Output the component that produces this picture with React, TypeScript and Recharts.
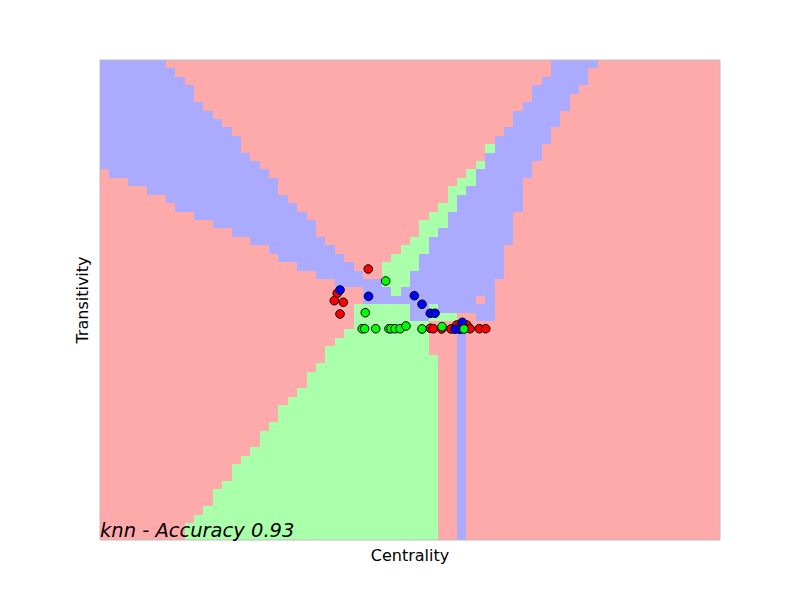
import React from "react";
import { ReferenceArea, Scatter, ScatterChart, XAxis, YAxis } from "recharts";

// mesh: 66 columns x 57 rows, step 0.01 in both directions
const STEP = 0.01;
const N_COLS = 66;
const N_ROWS = 57;
const X_MAX = N_COLS * STEP;
const Y_MAX = N_ROWS * STEP;

// predicted class per mesh row (top row first); "b7" = class b from column 7
const meshRows = [
  "b0 r7 b48 r53",
  "b0 r8 b48 r52",
  "b0 r9 b47 r52",
  "b0 r10 b46 r51",
  "b0 r10 b46 r50",
  "b0 r11 b45 r50",
  "b0 r12 b44 r49",
  "b0 r13 b44 r49",
  "b0 r14 b43 r48",
  "b0 r15 b42 r48",
  "b0 r15 g41 b42 r47",
  "b0 r16 b41 r47",
  "b0 r17 g40 b41 r46",
  "r0 b1 r18 g39 b40 r46",
  "r0 b3 r19 g38 b40 r45",
  "r0 b5 r19 g37 b39 r45",
  "r0 b7 r20 g37 b38 r45",
  "r0 b8 r21 g36 b38 r45",
  "r0 b10 r22 g35 b37 r44",
  "r0 b12 r23 g34 b37 r44",
  "r0 b14 r23 g34 b36 r44",
  "r0 b16 r24 g33 b35 r44",
  "r0 b18 r25 g32 b35 r43",
  "r0 b19 r26 g31 b34 r43",
  "r0 b21 r27 g30 b34 r43",
  "r0 b23 r28 g30 b33 r43",
  "r0 b25 g30 b33 r42",
  "r0 b28 g31 b32 r42",
  "r0 b28 r40 b41 r42",
  "r0 g27 b33 g35 b36 r42",
  "r0 g27 b33 g35 r38 b40 r42",
  "r0 g27 r35",
  "r0 g26 r35 b38 r39",
  "r0 g25 r35 b38 r39",
  "r0 g24 r35 b38 r39",
  "r0 g24 r36 b38 r39",
  "r0 g23 r36 b38 r39",
  "r0 g22 r36 b38 r39",
  "r0 g22 r36 b38 r39",
  "r0 g21 r36 b38 r39",
  "r0 g20 r36 b38 r39",
  "r0 g19 r36 b38 r39",
  "r0 g19 r36 b38 r39",
  "r0 g18 r36 b38 r39",
  "r0 g17 r36 b38 r39",
  "r0 g17 r36 b38 r39",
  "r0 g16 r36 b38 r39",
  "r0 g15 r36 b38 r39",
  "r0 g14 r36 b38 r39",
  "r0 g14 r36 b38 r39",
  "r0 g13 r36 b38 r39",
  "r0 g12 r36 b38 r39",
  "r0 g12 r36 b38 r39",
  "r0 g11 r36 b38 r39",
  "r0 g10 r36 b38 r39",
  "r0 g9 r36 b38 r39",
  "r0 g9 r36 b38 r39",
];

// test points [centrality, transitivity]
const redPoints = [
  [0.2856, 0.3218], [0.2526, 0.293], [0.2494, 0.2842], [0.259, 0.2823],
  [0.2555, 0.2684], [0.3516, 0.2514], [0.3548, 0.2509], [0.3637, 0.2506],
  [0.3736, 0.2506], [0.3797, 0.2553], [0.3832, 0.2533], [0.3904, 0.2553],
  [0.3939, 0.2509], [0.4038, 0.2509], [0.4106, 0.2509],
];
const bluePoints = [
  [0.2555, 0.2969], [0.2859, 0.2894], [0.3346, 0.2901], [0.3428, 0.2799],
  [0.3516, 0.2692], [0.3566, 0.2692], [0.3857, 0.2585], [0.3779, 0.2502],
  [0.3832, 0.2502],
];
const greenPoints = [
  [0.3041, 0.3076], [0.2824, 0.2699], [0.2791, 0.2509], [0.2817, 0.2509],
  [0.2935, 0.2509], [0.3076, 0.2509], [0.3098, 0.2509], [0.314, 0.2509],
  [0.3194, 0.2509], [0.3257, 0.2541], [0.3428, 0.2506], [0.3641, 0.2533],
  [0.3875, 0.2506],
];

const LIGHT: Record<string, string> = { r: "#ffaaaa", g: "#aaffaa", b: "#aaaaff" };

type Cell = { cls: string; x1: number; x2: number; y1: number; y2: number };

function meshCells(rows: string[]): Cell[] {
  const cells: Cell[] = [];
  rows.forEach((row, r) => {
    const parts = row.split(" ").map((t) => ({ cls: t[0], start: Number(t.slice(1)) }));
    parts.forEach((p, i) => {
      const end = i + 1 < parts.length ? parts[i + 1].start : N_COLS;
      if (p.cls === "r") return; // red is the background
      cells.push({
        cls: p.cls,
        x1: p.start * STEP,
        x2: end * STEP,
        y1: (N_ROWS - r - 1) * STEP,
        y2: (N_ROWS - r) * STEP,
      });
    });
  });
  return cells;
}

const toData = (pts: number[][]) => pts.map(([x, y]) => ({ x, y }));

const dot = (fill: string) => (props: any) => (
  <circle cx={props.cx} cy={props.cy} r={4.3} fill={fill} stroke="#000" strokeWidth={1} />
);

const crisp = (fill: string) => (props: any) => (
  <rect
    x={props.x}
    y={props.y}
    width={props.width}
    height={props.height}
    fill={fill}
    shapeRendering="crispEdges"
  />
);

// title sits inside the axes, bottom-left corner
const titleLabel = (props: any) => {
  const vb = props.viewBox || {};
  return (
    <text x={vb.x} y={vb.y + vb.height - 3} fontSize={19.5} fontStyle="italic" fill="#000">
      knn - Accuracy 0.93
    </text>
  );
};

export default function App() {
  const cells = meshCells(meshRows);
  return (
    <div style={{ position: "absolute", left: 0, top: 0, width: 800, height: 600, background: "#fff", fontFamily: "DejaVu Sans" }}>
      <ScatterChart width={800} height={600} margin={{ top: 60, right: 80, bottom: 30, left: 64 }}>
        <XAxis
          type="number"
          dataKey="x"
          domain={[0, X_MAX]}
          allowDataOverflow
          tick={false}
          tickLine={false}
          axisLine={false}
          height={30}
          label={{ value: "Centrality", position: "center", fill: "#000", fontSize: 16 }}
        />
        <YAxis
          type="number"
          dataKey="y"
          domain={[0, Y_MAX]}
          allowDataOverflow
          tick={false}
          tickLine={false}
          axisLine={false}
          width={36}
          label={{ value: "Transitivity", angle: -90, position: "center", fill: "#000", fontSize: 16 }}
        />
        <ReferenceArea x1={0} x2={X_MAX} y1={0} y2={Y_MAX} ifOverflow="hidden" shape={crisp(LIGHT.r)} />
        {cells.map((c, i) => (
          <ReferenceArea
            key={i}
            x1={c.x1}
            x2={c.x2}
            y1={c.y1}
            y2={c.y2}
            ifOverflow="hidden"
            shape={crisp(LIGHT[c.cls])}
          />
        ))}
        <ReferenceArea
          x1={0}
          x2={X_MAX}
          y1={0}
          y2={Y_MAX}
          ifOverflow="visible"
          fill="none"
          stroke="#bcbcbc"
          strokeWidth={1}
          label={{ content: titleLabel }}
        />
        <Scatter data={toData(redPoints)} shape={dot("#ff0000")} isAnimationActive={false} />
        <Scatter data={toData(bluePoints)} shape={dot("#0000ff")} isAnimationActive={false} />
        <Scatter data={toData(greenPoints)} shape={dot("#00ff00")} isAnimationActive={false} />
      </ScatterChart>
    </div>
  );
}
